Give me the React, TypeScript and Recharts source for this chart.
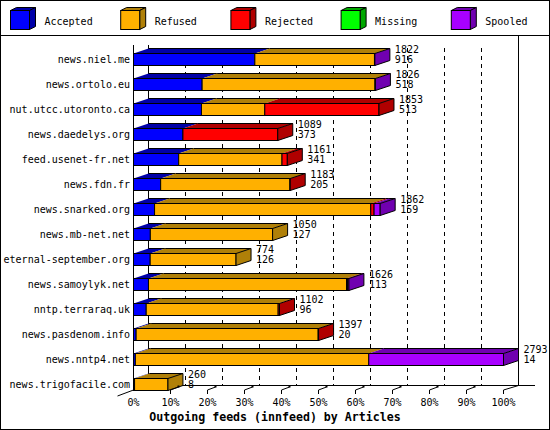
import React from 'react';
import { BarChart, Bar, XAxis, YAxis, CartesianGrid } from 'recharts';

const hosts = [
  'news.niel.me',
  'news.ortolo.eu',
  'nut.utcc.utoronto.ca',
  'news.daedelys.org',
  'feed.usenet-fr.net',
  'news.fdn.fr',
  'news.snarked.org',
  'news.mb-net.net',
  'eternal-september.org',
  'news.samoylyk.net',
  'nntp.terraraq.uk',
  'news.pasdenom.info',
  'news.nntp4.net',
  'news.trigofacile.com',
];
const accepted = [916, 518, 513, 373, 341, 205, 159, 127, 126, 113, 96, 20, 14, 8];
const refused = [903, 1305, 478, 0, 780, 976, 1632, 923, 648, 1495, 996, 1374, 1762, 252];
const rejected = [0, 0, 862, 716, 40, 2, 25, 0, 0, 8, 10, 3, 0, 0];
const missing = [0, 0, 0, 0, 0, 0, 0, 0, 0, 0, 0, 0, 0, 0];
const spooled = [3, 3, 0, 0, 0, 0, 46, 0, 0, 10, 0, 0, 1017, 0];
const tickPercents = [0, 10, 20, 30, 40, 50, 60, 70, 80, 90, 100];

const SERIES = [
  { key: 'accepted', label: 'Accepted', color: '#0000ff', shade: '#0000a8' },
  { key: 'refused', label: 'Refused', color: '#ffb000', shade: '#b08008' },
  { key: 'rejected', label: 'Rejected', color: '#ff0000', shade: '#b00000' },
  { key: 'missing', label: 'Missing', color: '#00ff00', shade: '#00a800' },
  { key: 'spooled', label: 'Spooled', color: '#a800ff', shade: '#7000b0' },
];

const data = hosts.map((name, i) => ({
  name,
  accepted: accepted[i],
  refused: refused[i],
  rejected: rejected[i],
  missing: missing[i],
  spooled: spooled[i],
}));

const totals = data.map(d => SERIES.reduce((s, k) => s + (d as any)[k.key], 0));
const MAX_TOTAL = Math.max(...totals);
const xTicks = tickPercents.map(p => (MAX_TOTAL * p) / 100);

// last non-empty segment of each row gets the end cap + labels
const lastKey = data.map(d => {
  let k = SERIES[0].key;
  SERIES.forEach(s => { if ((d as any)[s.key] > 0) k = s.key; });
  return k;
});

const W = 550;
const H = 430;
const PLOT_TOP = 40;
const PLOT_BOTTOM = 390;
const PLOT_LEFT = 133.5;
const PLOT_RIGHT = 503.5;
const DX = 15;
const DY = 5;
const BAR_H = 12;
const FLOOR_Y = PLOT_BOTTOM - DY + 0.5;
const FONT = '"DejaVu Sans Mono", monospace';

const makeShape = (s: typeof SERIES[number]) => (props: any) => {
  const { x, y, width, height, index } = props;
  if (!(width > 0)) return null;
  const bottom = y + height + 0.5;
  const top = bottom - BAR_H;
  const isLast = lastKey[index] === s.key;
  const ex = x + width;
  return (
    <g>
      <polygon
        points={`${x},${top} ${x + DX},${top - DY} ${ex + DX},${top - DY} ${ex},${top}`}
        fill={s.shade}
      />
      <line x1={x + DX} y1={top - DY} x2={ex + DX} y2={top - DY} stroke="#000" />
      <rect x={x} y={top} width={width} height={BAR_H} fill={s.color} stroke="#000" />
      {isLast && (
        <g>
          <polygon
            points={`${ex},${top} ${ex + DX},${top - DY} ${ex + DX},${bottom - DY} ${ex},${bottom}`}
            fill={s.shade}
            stroke="#000"
          />
          <text x={ex + DX + 5} y={top - 4.5} fontSize={10} fontFamily={FONT} dominantBaseline="central">
            {totals[index]}
          </text>
          <text x={ex + DX + 5} y={top + 5.5} fontSize={10} fontFamily={FONT} dominantBaseline="central">
            {accepted[index]}
          </text>
        </g>
      )}
    </g>
  );
};

const HostTick = (props: any) => {
  const { y, payload } = props;
  return (
    <text x={PLOT_LEFT - 3.5} y={y + 6.5} textAnchor="end" dominantBaseline="central" fontSize={10} fontFamily={FONT} fill="#000">
      {payload.value}
    </text>
  );
};

const FloorTick = (props: any) => {
  const { x, index, payload } = props;
  const pct = Math.round((payload.value / MAX_TOTAL) * 100);
  const first = index === 0;
  const last = index === tickPercents.length - 1;
  return (
    <g>
      {first && <line x1={x} y1={PLOT_TOP + 5} x2={x} y2={PLOT_BOTTOM} stroke="#000" />}
      {first && <line x1={x} y1={PLOT_BOTTOM} x2={x - 16} y2={PLOT_BOTTOM + 6} stroke="#000" />}
      {last && <line x1={x} y1={PLOT_BOTTOM} x2={x + DX} y2={FLOOR_Y} stroke="#000" />}
      {!first && <line x1={x} y1={PLOT_BOTTOM} x2={x} y2={PLOT_BOTTOM + 4} stroke="#000" />}
      {!first && !last && (
        <g>
          <line x1={x} y1={PLOT_BOTTOM} x2={x + 8} y2={PLOT_BOTTOM - 3} stroke="#000" />
          <rect x={x + 7} y={PLOT_BOTTOM - 4.5} width={2} height={2} fill="#000" />
        </g>
      )}
      <text x={x} y={PLOT_BOTTOM + 12.5} textAnchor="middle" dominantBaseline="central" fontSize={10} fontFamily={FONT} fill="#000">
        {pct}%
      </text>
    </g>
  );
};

const AxisTitle = () => (
  <text x={W / 2} y={417} textAnchor="middle" dominantBaseline="central" fontSize={11.6} fontWeight="bold" fontFamily={FONT} fill="#000">
    Outgoing feeds (innfeed) by Articles
  </text>
);

const backGrid = (props: any) => {
  const scale = props?.xAxis && typeof props.xAxis.scale === 'function' ? props.xAxis.scale : null;
  return xTicks.slice(1, -1).map(t =>
    (scale ? scale(t) : PLOT_LEFT + (t / MAX_TOTAL) * (PLOT_RIGHT - PLOT_LEFT)) + DX
  );
};

const Legend3D = () => (
  <svg width={W} height={36} style={{ position: 'absolute', left: 0, top: 0 }}>
    {SERIES.map((s, i) => {
      const lx = 10.5 + i * 110.2;
      const ly = 10.5;
      const sw = 19;
      const sh = 19;
      return (
        <g key={s.key}>
          <polygon
            points={`${lx},${ly} ${lx + 6},${ly - 3} ${lx + sw + 6},${ly - 3} ${lx + sw},${ly}`}
            fill={s.shade}
            stroke="#000"
          />
          <polygon
            points={`${lx + sw},${ly} ${lx + sw + 6},${ly - 3} ${lx + sw + 6},${ly + sh - 3} ${lx + sw},${ly + sh}`}
            fill={s.shade}
            stroke="#000"
          />
          <rect x={lx} y={ly} width={sw} height={sh} fill={s.color} stroke="#000" />
          <text x={lx + 34} y={21} dominantBaseline="central" fontSize={10} fontFamily={FONT} fill="#000">
            {s.label}
          </text>
        </g>
      );
    })}
    <line x1={0} y1={35.5} x2={W} y2={35.5} stroke="#000" />
  </svg>
);

export default function App() {
  return (
    <div style={{ position: 'fixed', left: 0, top: 0, width: W, height: H, background: '#fff' }}>
      <BarChart
        width={W}
        height={H}
        data={data}
        layout="vertical"
        barCategoryGap={0}
        margin={{ top: PLOT_TOP, right: W - PLOT_RIGHT, bottom: 0, left: PLOT_LEFT - 120 }}
      >
        <CartesianGrid
          horizontal={false}
          stroke="#000"
          strokeDasharray="4 4"
          x={PLOT_LEFT}
          y={48}
          width={PLOT_RIGHT - PLOT_LEFT + DX}
          height={FLOOR_Y - 48}
          verticalCoordinatesGenerator={backGrid}
        />
        <CartesianGrid
          stroke="#000"
          x={PLOT_LEFT}
          y={36}
          width={535 - PLOT_LEFT}
          height={FLOOR_Y - 36}
          verticalPoints={[PLOT_RIGHT + DX]}
          horizontalPoints={[FLOOR_Y]}
        />
        <CartesianGrid
          horizontal={false}
          stroke="#000"
          x={PLOT_LEFT}
          y={PLOT_TOP + 5}
          width={PLOT_RIGHT - PLOT_LEFT}
          height={FLOOR_Y - PLOT_TOP - 5}
          verticalPoints={[PLOT_LEFT + DX]}
        />
        <XAxis
          type="number"
          domain={[0, MAX_TOTAL]}
          ticks={xTicks}
          interval={0}
          height={40}
          axisLine={false}
          tickLine={false}
          tick={(p: any) => <FloorTick {...p} />}
          label={{ content: () => <AxisTitle /> }}
        />
        <YAxis
          type="category"
          dataKey="name"
          width={120}
          interval={0}
          axisLine={false}
          tickLine={false}
          tick={(p: any) => <HostTick {...p} />}
        />
        {SERIES.map(s => (
          <Bar key={s.key} dataKey={s.key} stackId="feeds" isAnimationActive={false} shape={makeShape(s)} />
        ))}
      </BarChart>
      <Legend3D />
      <div style={{ position: 'absolute', left: 0, top: 0, width: W, height: H, border: '1px solid #000', boxSizing: 'border-box', pointerEvents: 'none' }} />
    </div>
  );
}
